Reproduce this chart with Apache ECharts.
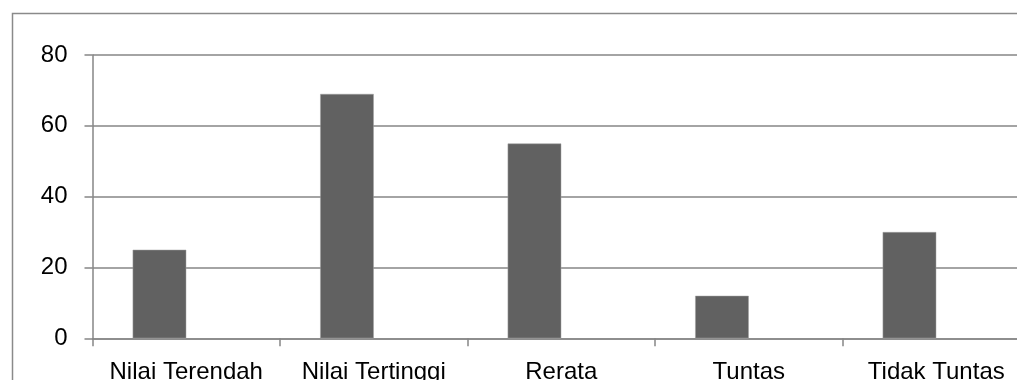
<!DOCTYPE html>
<html>
<head>
<meta charset="utf-8">
<script src="https://cdn.jsdelivr.net/npm/echarts@6/dist/echarts.min.js"></script>
<style>
  html, body { margin: 0; padding: 0; background: #fff; overflow: hidden; }
  /* the canvas is wider than the window: the plot runs past the right edge */
  #chart { width: 1060px; height: 380px; }
</style>
</head>
<body>
<div id="chart"></div>
<script>
// Ringkasan nilai ulangan
const categories = ['Nilai Terendah', 'Nilai Tertinggi', 'Rerata', 'Tuntas', 'Tidak Tuntas'];
const nilai = [25, 69, 55, 12, 30];
// Second (empty) series slot that shares each category cluster
const kosong = [null, null, null, null, null];
const yTicks = [0, 20, 40, 60, 80];

const lineColor = '#868686';
const font = '"Liberation Sans", Arial, sans-serif';

const chart = echarts.init(document.getElementById('chart'));
chart.setOption({
  animation: false,
  backgroundColor: '#fff',
  graphic: [{
    type: 'rect',
    shape: { x: 12.5, y: 13.5, width: 1100, height: 500 },
    style: { fill: 'none', stroke: '#8a8a8a', lineWidth: 1.5 },
    silent: true
  }],
  grid: { left: 92.5, top: 55, width: 937.5, height: 283.3, containLabel: false, outerBoundsMode: 'none' },
  xAxis: {
    type: 'category',
    data: categories,
    boundaryGap: true,
    axisLine: { show: true, lineStyle: { color: lineColor, width: 1.5 } },
    axisTick: { show: true, length: 8, inside: false, alignWithLabel: false, lineStyle: { color: lineColor, width: 1.5 } },
    axisLabel: { color: '#000', fontFamily: font, fontSize: 24, margin: 22, interval: 0 },
    splitLine: { show: false }
  },
  yAxis: {
    type: 'value',
    min: yTicks[0],
    max: yTicks[yTicks.length - 1],
    interval: 20,
    axisLine: { show: true, lineStyle: { color: lineColor, width: 1.5 } },
    axisTick: { show: true, length: 8, lineStyle: { color: lineColor, width: 1.5 } },
    axisLabel: { color: '#000', fontFamily: font, fontSize: 24, margin: 25 },
    splitLine: { show: true, lineStyle: { color: lineColor, width: 1.5 } }
  },
  series: [
    {
      name: 'Nilai',
      type: 'bar',
      data: nilai,
      barGap: '0%',
      barCategoryGap: '42.857%',
      itemStyle: { color: '#616161', borderColor: '#a0a0a0', borderWidth: 0.5 }
    },
    {
      name: 'Kosong',
      type: 'bar',
      data: kosong,
      barGap: '0%',
      barCategoryGap: '42.857%'
    }
  ]
});
</script>
</body>
</html>
